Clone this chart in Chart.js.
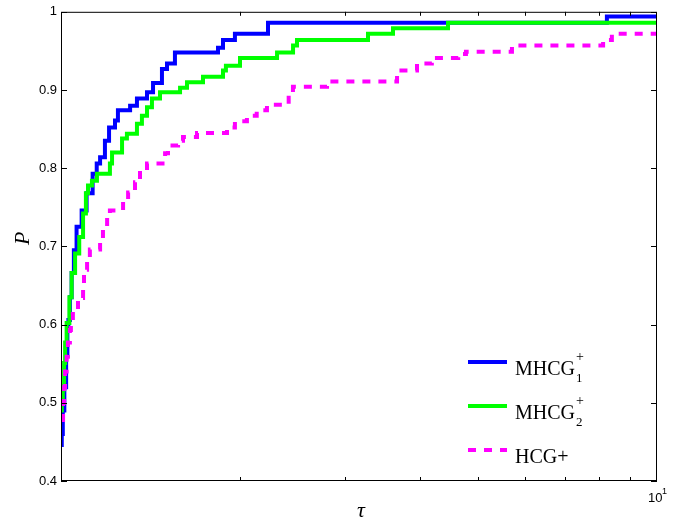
<!DOCTYPE html>
<html>
<head>
    <title>Performance profile</title>
    <script src="https://cdn.jsdelivr.net/npm/chart.js"></script>
    <style>
        body { margin: 0; background: #fff; }
        canvas { display: block; }
    </style>
</head>
<body>
    <canvas id="profileChart" width="678" height="523"></canvas>

    <script>
        // tau values (step positions) and P values for each solver
        const tauBlue = [1.000, 1.003, 1.007, 1.013, 1.020, 1.025, 1.029, 1.035, 1.042, 1.051, 1.062, 1.083, 1.104, 1.130, 1.148, 1.163, 1.185, 1.204, 1.232, 1.246, 1.306, 1.341, 1.394, 1.427, 1.477, 1.506, 1.553, 1.834, 1.870, 1.958, 2.225, 8.24, 10];
        const pBlue = [0.446, 0.460, 0.490, 0.520, 0.560, 0.597, 0.606, 0.635, 0.666, 0.695, 0.725, 0.746, 0.768, 0.793, 0.806, 0.814, 0.835, 0.852, 0.861, 0.874, 0.880, 0.889, 0.897, 0.909, 0.927, 0.934, 0.948, 0.954, 0.964, 0.972, 0.986, 0.994, 0.994];

        const tauGreen = [1.000, 1.003, 1.007, 1.012, 1.016, 1.022, 1.033, 1.042, 1.056, 1.073, 1.089, 1.101, 1.110, 1.127, 1.149, 1.208, 1.218, 1.266, 1.290, 1.341, 1.367, 1.394, 1.421, 1.466, 1.584, 1.627, 1.731, 1.870, 1.891, 1.997, 2.304, 2.451, 2.489, 3.274, 3.606, 4.46, 10];
        const pGreen = [0.490, 0.500, 0.517, 0.551, 0.577, 0.602, 0.635, 0.666, 0.691, 0.712, 0.742, 0.768, 0.778, 0.784, 0.793, 0.806, 0.820, 0.838, 0.844, 0.857, 0.867, 0.878, 0.889, 0.897, 0.903, 0.910, 0.917, 0.925, 0.931, 0.941, 0.948, 0.957, 0.964, 0.972, 0.979, 0.986, 0.986];

        const tauMagenta = [1.000, 1.008, 1.012, 1.016, 1.022, 1.027, 1.035, 1.039, 1.047, 1.068, 1.089, 1.093, 1.106, 1.118, 1.163, 1.176, 1.195, 1.208, 1.271, 1.296, 1.331, 1.357, 1.394, 1.495, 1.512, 1.572, 1.602, 1.691, 1.899, 1.958, 2.051, 2.13, 2.216, 2.41, 2.45, 2.795, 3.663, 3.957, 4.19, 4.64, 4.78, 5.71, 8.12, 8.40, 10];
        const pMagenta = [0.478, 0.500, 0.520, 0.540, 0.559, 0.577, 0.593, 0.606, 0.619, 0.634, 0.647, 0.670, 0.685, 0.696, 0.708, 0.725, 0.737, 0.746, 0.759, 0.769, 0.782, 0.797, 0.806, 0.819, 0.829, 0.835, 0.840, 0.845, 0.852, 0.860, 0.867, 0.874, 0.881, 0.895, 0.904, 0.911, 0.925, 0.934, 0.941, 0.946, 0.949, 0.957, 0.964, 0.972, 0.972];

        const yTicks = [0.4, 0.5, 0.6, 0.7, 0.8, 0.9, 1];
        const xMinorTicks = [2, 3, 4, 5, 6, 7, 8, 9];

        const toPoints = (xs, ys) => xs.map((x, i) => ({ x: x, y: ys[i] }));

        const serif = '"Liberation Serif", "DejaVu Serif", serif';
        const sans = '"Liberation Sans", Arial, sans-serif';

        // ticks inside the box, axis titles, custom legend with sub/superscripts
        const decorations = {
            id: 'decorations',
            afterDraw(chart) {
                const ctx = chart.ctx;
                const area = chart.chartArea;
                const xs = chart.scales.x;
                const ys = chart.scales.y;
                ctx.save();
                ctx.strokeStyle = '#000';
                ctx.lineWidth = 1;
                ctx.setLineDash([]);
                ctx.strokeRect(area.left + 0.5, area.top + 0.5, area.right - area.left - 1, area.bottom - area.top - 1);

                ctx.beginPath();
                yTicks.forEach(v => {
                    const y = Math.round(ys.getPixelForValue(v)) + 0.5;
                    ctx.moveTo(area.left, y); ctx.lineTo(area.left + 6, y);
                    ctx.moveTo(area.right, y); ctx.lineTo(area.right - 6, y);
                });
                xMinorTicks.forEach(v => {
                    const x = Math.round(xs.getPixelForValue(v)) + 0.5;
                    ctx.moveTo(x, area.bottom); ctx.lineTo(x, area.bottom - 4);
                    ctx.moveTo(x, area.top); ctx.lineTo(x, area.top + 4);
                });
                ctx.stroke();

                // x tick label 10^1
                ctx.fillStyle = '#000';
                ctx.textBaseline = 'alphabetic';
                const x10 = xs.getPixelForValue(10);
                ctx.font = '13px ' + sans;
                ctx.textAlign = 'left';
                ctx.fillText('10', x10 - 9, area.bottom + 21);
                ctx.font = '9px ' + sans;
                ctx.fillText('1', x10 + 5, area.bottom + 13);

                // axis titles
                ctx.font = 'italic 22px ' + serif;
                ctx.textAlign = 'center';
                ctx.fillText('\u03C4', (area.left + area.right) / 2 + 2, area.bottom + 36);
                ctx.save();
                ctx.translate(29, (area.top + area.bottom) / 2 - 8);
                ctx.rotate(-Math.PI / 2);
                ctx.textBaseline = 'alphabetic';
                ctx.fillText('P', 0, 0);
                ctx.restore();

                // legend
                const items = chart.data.datasets;
                const lx = area.right - 189;
                const rows = [area.bottom - 119, area.bottom - 75, area.bottom - 31];
                items.forEach((ds, i) => {
                    const y = rows[i];
                    ctx.strokeStyle = ds.borderColor;
                    ctx.lineWidth = 4;
                    ctx.setLineDash(ds.borderDash || []);
                    ctx.beginPath();
                    ctx.moveTo(lx, y);
                    ctx.lineTo(lx + 39, y);
                    ctx.stroke();
                    ctx.setLineDash([]);
                    ctx.fillStyle = '#000';
                    ctx.textAlign = 'left';
                    ctx.font = '20px ' + serif;
                    ctx.fillText(ds.legendBase, lx + 47, y + 13);
                    if (ds.legendSub) {
                        const w = ctx.measureText(ds.legendBase).width;
                        ctx.font = '14px ' + serif;
                        ctx.fillText('+', lx + 48 + w, y - 1);
                        ctx.font = '13px ' + serif;
                        ctx.fillText(ds.legendSub, lx + 48 + w, y + 20);
                    }
                });
                ctx.restore();
            }
        };

        const ctx = document.getElementById('profileChart').getContext('2d');
        const chart = new Chart(ctx, {
            type: 'line',
            data: {
                datasets: [
                    {
                        label: 'MHCG1+',
                        legendBase: 'MHCG',
                        legendSub: '1',
                        data: toPoints(tauBlue, pBlue),
                        borderColor: '#0000ff',
                        borderWidth: 4,
                        stepped: 'before',
                        order: 2
                    },
                    {
                        label: 'MHCG2+',
                        legendBase: 'MHCG',
                        legendSub: '2',
                        data: toPoints(tauGreen, pGreen),
                        borderColor: '#00ff00',
                        borderWidth: 4,
                        stepped: 'before',
                        order: 1
                    },
                    {
                        label: 'HCG+',
                        legendBase: 'HCG+',
                        data: toPoints(tauMagenta, pMagenta),
                        borderColor: '#ff00ff',
                        borderWidth: 4,
                        borderDash: [8, 8],
                        stepped: 'before',
                        order: 0
                    }
                ]
            },
            options: {
                responsive: false,
                animation: false,
                events: [],
                layout: { padding: { top: 11, right: 21, left: 0, bottom: 0 } },
                elements: { point: { radius: 0 }, line: { tension: 0, fill: false } },
                plugins: { legend: { display: false }, tooltip: { enabled: false } },
                scales: {
                    x: {
                        type: 'logarithmic',
                        min: 1,
                        max: 10,
                        grid: { display: false, drawTicks: false },
                        border: { display: false },
                        ticks: { display: false },
                        afterFit: scale => { scale.height = 42; }
                    },
                    y: {
                        min: 0.4,
                        max: 1,
                        grid: { display: false, drawTicks: false },
                        border: { display: false },
                        ticks: {
                            stepSize: 0.1,
                            padding: 4,
                            color: '#000',
                            font: { family: sans, size: 13 },
                            callback: v => String(Math.round(v * 10) / 10)
                        },
                        afterFit: scale => { scale.width = 61; }
                    }
                }
            },
            plugins: [decorations]
        });
    </script>
</body>
</html>
